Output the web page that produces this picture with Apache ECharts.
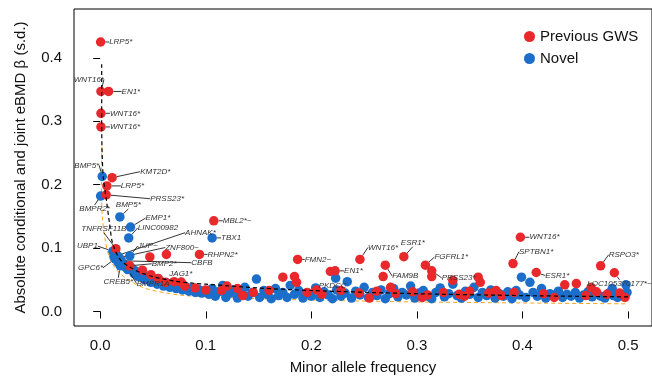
<!DOCTYPE html>
<html><head><meta charset="utf-8">
<script src="https://cdn.jsdelivr.net/npm/echarts@6/dist/echarts.min.js"></script>
<style>html,body{margin:0;padding:0;background:#fff}#c{width:652px;height:380px}</style>
</head><body><div id="c"></div>
<script>
const xTicks = [0, 0.1, 0.2, 0.3, 0.4, 0.5];
const yTicks = [0, 0.1, 0.2, 0.3, 0.4];
const legendNames = ['Previous GWS', 'Novel'];

// labelled points [maf, beta, label]
const redLabeled = [
  [0.0004, 0.425, 'LRP5*'],
  [0.0007, 0.347, 'WNT16*'],
  [0.0079, 0.347, 'EN1*'],
  [0.0007, 0.3125, 'WNT16*'],
  [0.0007, 0.291, 'WNT16*'],
  [0.0113, 0.211, 'KMT2D*'],
  [0.0063, 0.198, 'LRP5*'],
  [0.0057, 0.184, 'PRSS23*'],
  [0.1076, 0.143, 'MBL2*~'],
  [0.0148, 0.099, 'TNFRSF11B'],
  [0.094, 0.090, 'RHPN2*'],
  [0.028, 0.072, 'BMP2*'],
  [0.0768, 0.0463, 'JAG1*'],
  [0.187, 0.082, 'FMN2~'],
  [0.2225, 0.064, 'EN1*'],
  [0.246, 0.082, 'WNT16*'],
  [0.2876, 0.0864, 'ESR1*'],
  [0.270, 0.073, 'FAM9B'],
  [0.308, 0.073, 'FGFRL1*'],
  [0.314, 0.064, 'PRSS23*'],
  [0.398, 0.117, 'WNT16*'],
  [0.391, 0.0755, 'SPTBN1*'],
  [0.413, 0.0614, 'ESR1*'],
  [0.474, 0.072, 'RSPO3*'],
  [0.487, 0.061, 'LOC105370177*~']
];
const blueLabeled = [
  [0.0019, 0.213, 'BMP5*'],
  [0.0004, 0.182, 'BMPR2*'],
  [0.0186, 0.149, 'BMP5*'],
  [0.0287, 0.133, 'EMP1*'],
  [0.027, 0.116, 'LINC00982'],
  [0.106, 0.116, 'TBX1'],
  [0.012, 0.095, 'UBP1'],
  [0.016, 0.088, 'AHNAK*'],
  [0.018, 0.085, 'ZNF800~'],
  [0.020, 0.080, 'CBFB'],
  [0.014, 0.083, 'GPC6*'],
  [0.019, 0.072, 'CREB5*'],
  [0.026, 0.066, 'BMPR1A'],
  [0.028, 0.0875, 'JUP~'],
  [0.223, 0.0525, 'PKDCC']
];

// unlabelled points [maf, beta]
const redPoints = [
  [0.040,0.065],[0.047,0.086],[0.048,0.058],[0.055,0.052],[0.0627,0.090],[0.062,0.046],[0.070,0.047],
  [0.080,0.040],[0.090,0.037],[0.100,0.034],[0.115,0.033],[0.120,0.040],[0.130,0.036],[0.135,0.025],
  [0.145,0.030],[0.160,0.033],[0.173,0.054],[0.184,0.055],[0.186,0.046],[0.196,0.030],[0.205,0.034],
  [0.210,0.027],[0.218,0.063],[0.228,0.033],[0.245,0.029],[0.255,0.021],[0.262,0.032],[0.268,0.055],
  [0.275,0.038],[0.280,0.028],[0.296,0.031],[0.305,0.022],[0.310,0.026],[0.314,0.055],[0.325,0.030],
  [0.334,0.049],[0.340,0.027],[0.345,0.024],[0.350,0.032],[0.358,0.054],[0.360,0.046],[0.368,0.029],
  [0.375,0.033],[0.380,0.025],[0.392,0.030],[0.420,0.028],[0.430,0.022],[0.440,0.042],[0.451,0.044],
  [0.460,0.025],[0.465,0.038],[0.470,0.031],[0.480,0.027],[0.492,0.029],[0.497,0.022]
];
const bluePoints = [
  [0.013,0.087],[0.015,0.090],[0.017,0.077],[0.022,0.075],[0.024,0.070],[0.030,0.068],[0.032,0.060],
  [0.033,0.064],[0.036,0.055],[0.039,0.061],[0.042,0.050],[0.045,0.055],[0.048,0.046],[0.051,0.052],
  [0.054,0.043],[0.057,0.048],[0.060,0.040],[0.063,0.045],[0.066,0.038],[0.069,0.043],[0.072,0.036],
  [0.075,0.041],[0.078,0.034],[0.081,0.039],[0.084,0.032],[0.087,0.037],[0.090,0.030],[0.093,0.035],
  [0.096,0.029],[0.099,0.033],[0.103,0.027],[0.106,0.036],[0.109,0.024],[0.112,0.031],[0.116,0.041],
  [0.119,0.022],[0.123,0.029],[0.126,0.034],[0.130,0.021],[0.133,0.027],[0.137,0.038],[0.140,0.024],
  [0.144,0.030],[0.148,0.051],[0.151,0.022],[0.155,0.033],[0.158,0.027],[0.162,0.020],[0.166,0.036],
  [0.169,0.025],[0.173,0.030],[0.177,0.022],[0.180,0.041],[0.184,0.027],[0.188,0.033],[0.192,0.021],
  [0.196,0.029],[0.200,0.024],[0.204,0.037],[0.208,0.022],[0.212,0.031],[0.216,0.026],[0.220,0.020],
  [0.224,0.034],[0.228,0.024],[0.232,0.029],[0.234,0.047],[0.238,0.021],[0.242,0.032],[0.246,0.026],
  [0.250,0.038],[0.254,0.022],[0.258,0.030],[0.262,0.025],[0.266,0.034],[0.270,0.020],[0.274,0.028],
  [0.278,0.036],[0.282,0.023],[0.286,0.030],[0.290,0.026],[0.294,0.040],[0.298,0.021],[0.302,0.029],
  [0.306,0.033],[0.310,0.024],[0.314,0.020],[0.318,0.030],[0.322,0.037],[0.326,0.023],[0.330,0.028],
  [0.334,0.043],[0.338,0.025],[0.342,0.021],[0.346,0.032],[0.350,0.027],[0.354,0.038],[0.358,0.022],
  [0.362,0.030],[0.366,0.025],[0.370,0.034],[0.374,0.021],[0.378,0.028],[0.382,0.024],[0.386,0.031],
  [0.390,0.020],[0.394,0.033],[0.397,0.026],[0.399,0.054],[0.403,0.022],[0.407,0.046],[0.410,0.030],
  [0.414,0.024],[0.418,0.036],[0.422,0.021],[0.426,0.028],[0.430,0.025],[0.434,0.032],[0.438,0.022],
  [0.442,0.027],[0.446,0.024],[0.450,0.030],[0.454,0.021],[0.458,0.026],[0.462,0.031],[0.466,0.023],
  [0.470,0.028],[0.474,0.024],[0.478,0.021],[0.482,0.029],[0.486,0.025],[0.485,0.036],[0.490,0.022],
  [0.494,0.027],[0.497,0.024],[0.498,0.042],[0.499,0.030]
];

// dashed threshold curves
const blackCurve = [[0.0014,0.39],[0.0014,0.30],[0.0018,0.25],[0.003,0.21],[0.006,0.174],[0.009,0.137],
  [0.012,0.106],[0.02,0.08],[0.04,0.06],[0.07,0.048],[0.1,0.043],[0.15,0.037],[0.2,0.033],[0.3,0.028],[0.4,0.025],[0.5,0.023]];
const orangeCurve = [[0.0015,0.26],[0.0012,0.2],[0.002,0.15],[0.005,0.11],[0.01,0.08],[0.02,0.058],
  [0.04,0.038],[0.07,0.027],[0.1,0.023],[0.2,0.018],[0.3,0.015],[0.5,0.012]];

// label placement (pixels relative to the point centre) - style only
const redLabelPos = [
  [8.5,0,'left'],[3,-12,'right'],[13,0,'left'],[9,0,'left'],[9,0,'left'],[28,-6,'left'],[14,0,'left'],[44,4,'left'],
  [9,0,'left'],[-12,-20,'center'],[8,0,'left'],[22,-2,'left'],[-12,-8,'left'],[7,0,'left'],[9,0,'left'],
  [8,-12,'left'],[-3,-14,'left'],[7,11,'left'],[9,-8,'left'],[10,7,'left'],[9,0,'left'],[6,-12,'left'],
  [9,3,'left'],[8,-11,'left'],[-27,11,'left']
];
const blueLabelPos = [
  [-3,-11,'right'],[-6,13,'center'],[-4,-12,'left'],[15,-9,'left'],[9,-10,'left'],[9,0,'left'],
  [-15,-5,'right'],[68,-23,'left'],[46,-10,'left'],[70,2,'left'],[-12,9,'right'],[-2,16,'center'],
  [9,14,'left'],[8,-10,'left'],[-3,8,'center']
];

const RED = '#e8282b', BLUE = '#1b6fcb';
const chart = echarts.init(document.getElementById('c'), null, {renderer: 'canvas'});

function labelSeries(name, pts, pos, color) {
  return {
    name: name, type: 'scatter', symbolSize: 9.5, z: 4,
    itemStyle: {color: color, opacity: 1},
    data: pts.map(p => ({value: [p[0], p[1]], name: p[2]})),
    label: {show: true, formatter: '{b}', fontSize: 8, fontStyle: 'italic', color: '#333',
      fontFamily: 'Liberation Sans, Arial, sans-serif', position: 'right'},
    labelLine: {show: true, lineStyle: {color: '#000', width: 0.8}},
    labelLayout: function (params) {
      const o = pos[params.dataIndex];
      const cx = params.rect.x + params.rect.width / 2;
      const cy = params.rect.y + params.rect.height / 2;
      return {x: cx + o[0], y: cy + o[1], align: o[2], verticalAlign: 'middle'};
    }
  };
}

const axisFont = {fontSize: 15, color: '#111', fontFamily: 'Liberation Sans, Arial, sans-serif'};

chart.setOption({
  animation: false,
  grid: {left: 74, right: -2, top: 9, bottom: 51, show: true, borderColor: '#000', borderWidth: 1},
  legend: {
    data: legendNames, orient: 'vertical', left: 519, top: 24, icon: 'circle',
    itemWidth: 11, itemHeight: 11, itemGap: 7,
    textStyle: {fontSize: 15, color: '#111', fontFamily: 'Liberation Sans, Arial, sans-serif'}
  },
  xAxis: {
    type: 'value', min: -0.02483, max: 0.52265,
    name: 'Minor allele frequency', nameLocation: 'middle', nameGap: 34,
    nameTextStyle: axisFont,
    axisLine: {show: false}, splitLine: {show: false},
    axisTick: {show: true, length: 7, customValues: xTicks, lineStyle: {color: '#000'}},
    axisLabel: {customValues: xTicks, margin: 12, formatter: v => v.toFixed(1), ...axisFont}
  },
  yAxis: {
    type: 'value', min: -0.02297, max: 0.47703,
    name: 'Absolute conditional and joint eBMD β (s.d.)', nameLocation: 'middle', nameGap: 46,
    nameTextStyle: axisFont,
    axisLine: {show: false}, splitLine: {show: false},
    axisTick: {show: true, length: 7, customValues: yTicks, lineStyle: {color: '#000'}},
    axisLabel: {customValues: yTicks, margin: 12, formatter: v => v.toFixed(1), ...axisFont}
  },
  series: [
    {type: 'line', data: orangeCurve, showSymbol: false, smooth: 0.3, z: 1, silent: true,
      lineStyle: {color: '#f5a31e', width: 1, type: [4, 3]}},
    {type: 'line', data: blackCurve, showSymbol: false, smooth: 0.3, z: 5, silent: true,
      lineStyle: {color: '#000', width: 1.2, type: [4, 3]}},
    {name: 'Novel', type: 'scatter', symbolSize: 9.5, z: 3, data: bluePoints, itemStyle: {color: BLUE, opacity: 1}},
    {name: 'Previous GWS', type: 'scatter', symbolSize: 9.5, z: 3, data: redPoints, itemStyle: {color: RED, opacity: 1}},
    labelSeries('Novel', blueLabeled, blueLabelPos, BLUE),
    labelSeries('Previous GWS', redLabeled, redLabelPos, RED)
  ]
});
</script></body></html>
